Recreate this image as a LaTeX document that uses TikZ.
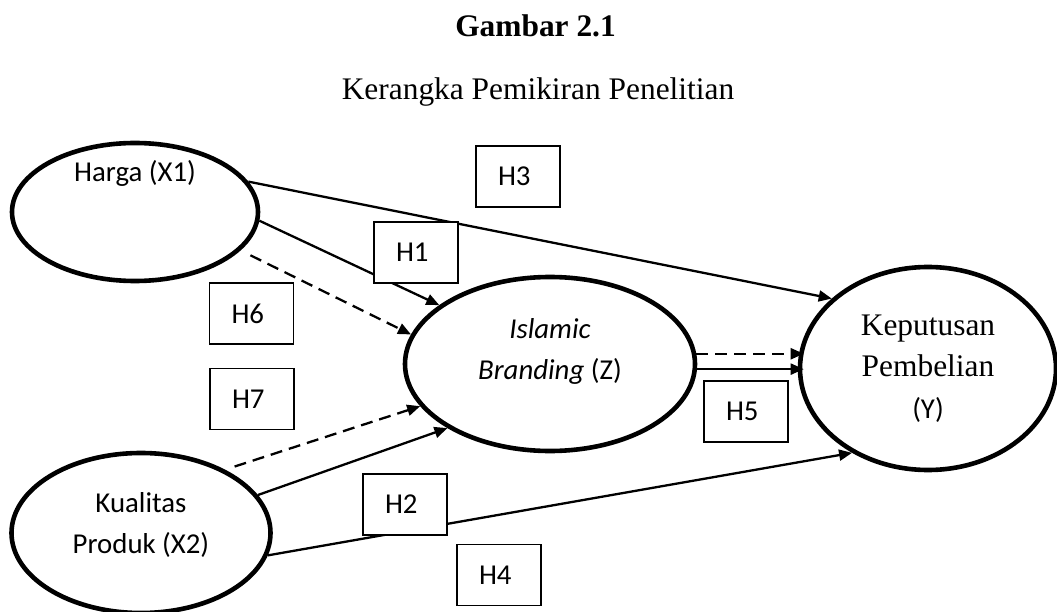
\documentclass[tikz,border=0pt]{standalone}
\usepackage{fontspec}
\setmainfont{Liberation Serif}
\newfontfamily\calibri{Carlito}
\usetikzlibrary{arrows.meta,shapes.geometric}

% text styles
\newcommand\lblfont{\calibri\fontsize{28.8}{34}\selectfont}
\newcommand\serfont{\fontsize{31.4}{38}\selectfont}

\tikzset{
  latent/.style={ellipse, draw, line width=4.6pt, inner sep=0pt},
  hbox/.style={rectangle, draw, fill=white, line width=1.4pt,
    minimum width=84pt, minimum height=61pt, inner sep=0pt,
    text width=40pt, align=left, font=\lblfont},
  arrowline/.style={line width=2.3pt, -{Triangle[length=13pt,width=11pt]}},
  dasharrow/.style={arrowline, dash pattern=on 12pt off 7pt},
}

\begin{document}
\begin{tikzpicture}[x=1pt,y=-1pt]
\useasboundingbox (0,0) rectangle (1057,612);

% heading
\node[anchor=base, font=\serfont\bfseries] (title) at (535.5,37) {Gambar 2.1};
\node[anchor=base, font=\serfont] (subtitle) at (538,100) {Kerangka Pemikiran Penelitian};

% constructs
\node[latent, minimum width=246pt, minimum height=138pt] (harga) at (135,212) {};
\node[latent, minimum width=290pt, minimum height=174pt] (isl) at (550,364) {};
\node[latent, minimum width=256pt, minimum height=203pt] (kep) at (928,368.5) {};
\node[latent, minimum width=259pt, minimum height=160pt] (kual) at (141,533) {};

% construct names
\node[anchor=base, font=\lblfont] (hargaT) at (135,182) {Harga (X1)};
\node[anchor=base, font=\lblfont] (kualT1) at (141,512) {Kualitas};
\node[anchor=base, font=\lblfont] (kualT2) at (141,553) {Produk (X2)};
\node[anchor=base, font=\lblfont] (islT1) at (550,338) {\itshape Islamic};
\node[anchor=base, font=\lblfont] (islT2) at (550,379) {\textit{Branding} (Z)};
\node[anchor=base, font=\serfont] (kepT1) at (928,335) {Keputusan};
\node[anchor=base, font=\serfont] (kepT2) at (928,376.5) {Pembelian};
\node[anchor=base, font=\lblfont] (kepT3) at (928,418) {(Y)};

% paths
\draw[arrowline] (harga.15) -- (kep.144);
\draw[arrowline] (harga.-4) -- (isl.152);
\draw[dasharrow, shorten <=11pt] (harga.-20.5) -- (isl.168);
\draw[dasharrow, shorten <=10pt] (kual.37.6) -- (isl.198);
\draw[arrowline] (kual.18.6) -- (isl.212);
\draw[arrowline] (kual.-10) -- (kep.228);
\draw[dasharrow] (isl.4.3) -- ([xshift=6pt]isl.4.3 -| kep.west);
\draw[arrowline] (isl.-2.3) -- ([xshift=6pt]isl.-2.3 -| kep.west);

% hypothesis labels
\node[hbox] (h3) at (518,176.5) {H3};
\node[hbox] (h1) at (416,252.5) {H1};
\node[hbox] (h6) at (251.5,313.5) {H6};
\node[hbox] (h7) at (252,399) {H7};
\node[hbox] (h5) at (746,411.5) {H5};
\node[hbox] (h2) at (405,504.5) {H2};
\node[hbox] (h4) at (499,575) {H4};
\end{tikzpicture}
\end{document}
